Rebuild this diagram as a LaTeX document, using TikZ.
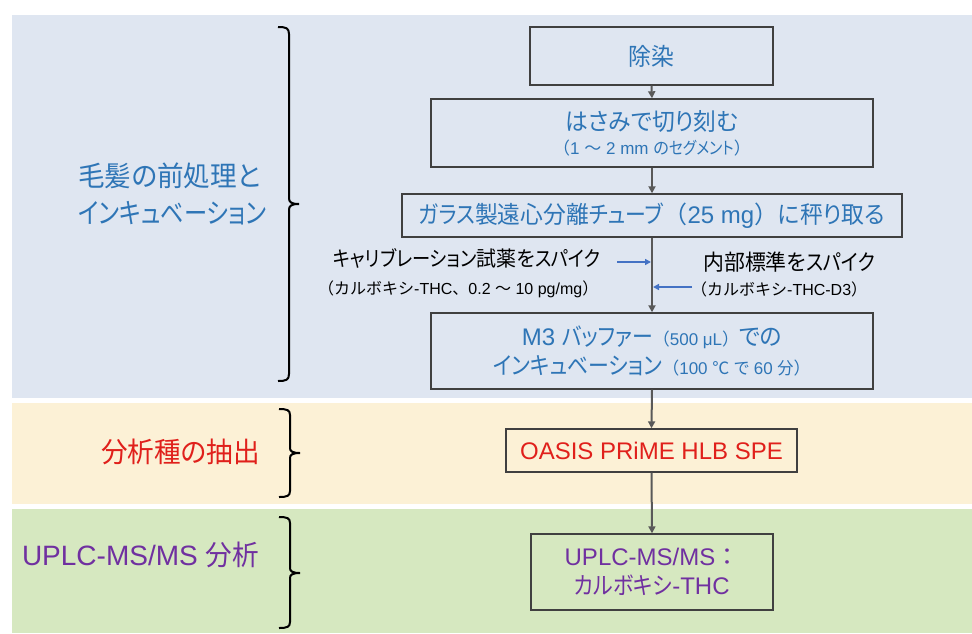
\documentclass[tikz,border=0pt]{standalone}
\usepackage{fontspec}
\setmainfont{Liberation Sans}
\newfontfamily\jp[RawFeature={+palt},FakeStretch=0.95]{Noto Sans CJK JP}
\newfontfamily\jk[RawFeature={+palt},FakeStretch=0.87]{Noto Sans CJK JP}
\newfontfamily\jkk[RawFeature={+palt},FakeStretch=0.83]{Noto Sans CJK JP}
\newfontfamily\jpw{Noto Sans CJK JP}
\usetikzlibrary{arrows.meta}
\definecolor{bandblue}{HTML}{DFE6F1}
\definecolor{bandyellow}{HTML}{FCF1D6}
\definecolor{bandgreen}{HTML}{D6E8C0}
\definecolor{tblue}{HTML}{2E75B6}
\definecolor{tred}{HTML}{E0201B}
\definecolor{tpurple}{HTML}{7030A0}
\definecolor{boxline}{HTML}{404040}
\definecolor{flowline}{HTML}{595959}
\definecolor{spikeblue}{HTML}{4472C4}
\newcommand\J[1]{{\jp #1}}
\newcommand\K[1]{{\jk #1}}
\newcommand\W[1]{{\jpw #1}}
\newcommand\smtxt{\fontsize{17}{20}\selectfont}
\begin{document}
\begin{tikzpicture}[x=1pt,y=-1pt,
  stepbox/.style={draw=boxline, line width=1.4pt, inner sep=0pt, align=center, font=\fontsize{24}{29}\selectfont},
  flow/.style={draw=flowline, line width=2pt, -{Triangle[length=7pt,width=7pt]}},
  spike/.style={draw=spikeblue, line width=1.6pt, -{Triangle[length=6pt,width=6pt]}},
  bracepath/.style={draw=black, line width=2pt},
  grouplabel/.style={font=\fontsize{28}{37}\selectfont, inner sep=0pt},
  spikemain/.style={font=\fontsize{21}{24}\selectfont, inner sep=0pt, anchor=west},
  spikesub/.style={font=\fontsize{16}{18}\selectfont, inner sep=0pt, anchor=west}]
\useasboundingbox (0,0) rectangle (972,633);
\fill[white] (0,0) rectangle (972,633);
\fill[bandblue] (12,15) rectangle (972,398);
\fill[bandyellow] (12,403) rectangle (972,504);
\fill[bandgreen] (12,509) rectangle (972,633);

% group labels
\node[grouplabel, text=tblue, anchor=west, align=left] (g1) at (78,193.5) {\J{毛髪の前処理と}\\{\jkk インキュベーション}};
\node[grouplabel, text=tred, anchor=east] (g2) at (260,452) {\J{分析種の抽出}};
\node[grouplabel, text=tpurple, anchor=east] (g3) at (259,555) {UPLC-MS/MS \J{分析}};

% braces
\draw[bracepath] (278,27) .. controls (286,27) and (289,28) .. (289,34) -- (289,198)
  .. controls (289,202) and (291,204) .. (299,204) .. controls (291,204) and (289,206) .. (289,210)
  -- (289,374) .. controls (289,380) and (286,381) .. (278,381);
\draw[bracepath] (279,409) .. controls (287,409) and (290,410) .. (290,415) -- (290,448)
  .. controls (290,451) and (292,453) .. (300,453) .. controls (292,453) and (290,455) .. (290,458)
  -- (290,491) .. controls (290,496) and (287,497) .. (279,497);
\draw[bracepath] (279,517) .. controls (287,517) and (290,518) .. (290,523) -- (290,568)
  .. controls (290,571) and (292,573) .. (300,573) .. controls (292,573) and (290,575) .. (290,578)
  -- (290,622) .. controls (290,627) and (287,628) .. (279,628);

% step boxes
\node[stepbox, text=tblue, minimum width=243pt, minimum height=58pt] (s1) at (651.5,56) {\J{除染}};
\node[stepbox, text=tblue, minimum width=442pt, minimum height=68pt] (s2) at (652,133)
  {\J{はさみで切り刻む}\\[-5pt]{\smtxt\W{（}1 \W{～} 2 mm \J{の}\K{セグメント}\W{）}}};
\node[stepbox, text=tblue, minimum width=500pt, minimum height=43pt] (s3) at (652,215.5)
  {\K{ガラス}\J{製遠心分離}\K{チューブ}\W{（}25 mg\W{）}\J{に秤り取る}};
\node[stepbox, text=tblue, minimum width=442pt, minimum height=76pt] (s4) at (652,351)
  {M3 \K{バッファー}{\smtxt\W{（}500 μL\W{）}}\J{での}\\
   \K{インキュベーション}{\smtxt\W{（}100 \W{℃} \J{で} 60 \J{分}\W{）}}};
\node[stepbox, text=tred, minimum width=291pt, minimum height=43pt] (s5) at (651.5,450.5)
  {OASIS PRiME HLB SPE};
\node[stepbox, text=tpurple, minimum width=242pt, minimum height=76pt] (s6) at (652,572)
  {UPLC-MS/MS\W{：}\\\K{カルボキシ}-THC};

% spike labels
\node[spikemain] (c1) at (333,258) {\K{キャリブレーション}\J{試薬を}\K{スパイク}};
\node[spikesub] (c2) at (318,289) {\W{（カルボキシ}-THC\W{、}0.2 \W{～} 10 pg/mg\W{）}};
\node[spikemain, font=\fontsize{22}{24}\selectfont] (d1) at (703,262) {\J{内部標準を}\K{スパイク}};
\node[spikesub] (d2) at (691,289) {\W{（カルボキシ}-THC-D3\W{）}};

% flow arrows
\draw[flow] (s1.south) -- (s2.north);
\draw[flow] (s2.south) -- (s3.north);
\draw[flow] (s3.south) -- (s4.north);
\draw[flow] (s4.south) -- (s5.north);
\draw[flow] (s5.south) -- (s6.north);

% spike arrows
\coordinate (a1) at (617,262);
\coordinate (j1) at (651,262);
\coordinate (a2) at (692,287);
\coordinate (j2) at (653,287);
\draw[spike] (a1) -- (j1);
\draw[spike] (a2) -- (j2);
\end{tikzpicture}
\end{document}
